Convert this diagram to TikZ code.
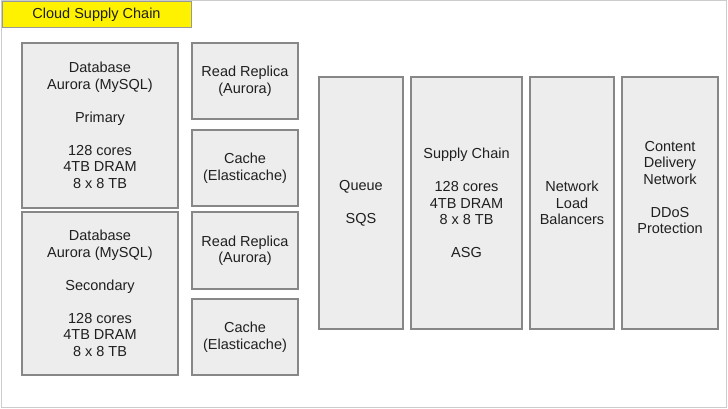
\documentclass[tikz,border=0pt]{standalone}
\usepackage{fontspec}
\setmainfont{Liberation Sans}
\begin{document}
\begin{tikzpicture}[x=1pt,y=-1pt,
  every node/.style={font=\fontsize{14.5}{16.5}\selectfont, text=black!88, align=center, inner sep=0pt},
  gbox/.style={draw=black!47, fill=black!7, line width=1.2pt, rectangle},
]
\useasboundingbox (0,0) rectangle (728,409);
% outer frame
\draw[draw=black!20, line width=1pt] (1.5,0.5) rectangle (726,407.5);
% title
\node[draw=black!40, fill=yellow, line width=1pt, minimum width=189pt, minimum height=26pt] (title) at (96.5,15) {Cloud Supply Chain};
% database column
\node[gbox, minimum width=156pt, minimum height=165pt] (db1) at (100,125.5)
  {Database\\Aurora (MySQL)\\[16.5pt]Primary\\[16.5pt]128 cores\\4TB DRAM\\8 x 8 TB};
\node[gbox, minimum width=156pt, minimum height=163pt] (db2) at (100,293.5)
  {Database\\Aurora (MySQL)\\[16.5pt]Secondary\\[16.5pt]128 cores\\4TB DRAM\\8 x 8 TB};
% replicas and caches
\node[gbox, minimum width=106pt, minimum height=76pt] (rr1) at (245,81) {Read Replica\\(Aurora)};
\node[gbox, minimum width=106pt, minimum height=76pt] (c1) at (245,168) {Cache\\(Elasticache)};
\node[gbox, minimum width=106pt, minimum height=77pt] (rr2) at (245,250.5) {Read Replica\\(Aurora)};
\node[gbox, minimum width=106pt, minimum height=76pt] (c2) at (245,337) {Cache\\(Elasticache)};
% tall boxes
\node[gbox, minimum width=84pt, minimum height=252pt] (queue) at (361,203) {Queue\\[16.5pt]SQS};
\node[gbox, minimum width=111pt, minimum height=252pt] (sc) at (466.5,203)
  {Supply Chain\\[16.5pt]128 cores\\4TB DRAM\\8 x 8 TB\\[16.5pt]ASG};
\node[gbox, minimum width=84pt, minimum height=252pt] (nlb) at (572,203) {Network\\Load\\Balancers};
\node[gbox, minimum width=96pt, minimum height=252pt] (cdn) at (670,203) {};
\node (cdntext) at ([yshift=15.5pt]cdn.center) {Content\\Delivery\\Network\\[16.5pt]DDoS\\Protection};
\end{tikzpicture}
\end{document}
